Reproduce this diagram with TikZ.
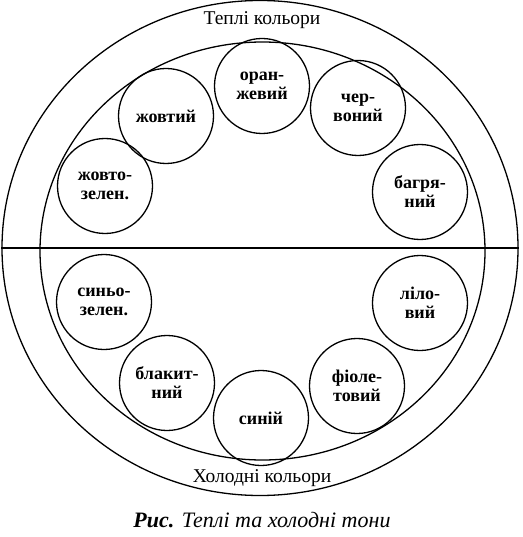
\documentclass[tikz,border=0pt]{standalone}
\usepackage{fontspec}
\setmainfont{Liberation Serif}
\usetikzlibrary{shapes.geometric}

\tikzset{
  tone/.style={circle, draw, line width=1.3pt, minimum size=95pt, inner sep=0pt,
    align=center, font=\bfseries\fontsize{18}{19}\selectfont},
  ring/.style={ellipse, draw, line width=1.3pt, inner sep=0pt},
  legend/.style={font=\fontsize{19.5}{22}\selectfont}
}

\begin{document}
\begin{tikzpicture}[x=1pt, y=-1pt]
        \useasboundingbox (0,0) rectangle (522,537);

        % Outer and inner rings
        \node[ring, minimum width=516pt, minimum height=495pt] (outer) at (260,248) {};
        \node[ring, minimum width=445pt, minimum height=418pt] (inner) at (262.5,251) {};

        % Dividing line
        \draw[line width=2.5pt] (outer.west) -- (outer.east);

        % Warm tones
        \node[tone] (orange) at (262,86) {оран-\\жевий};
        \node[tone] (yellow) at (166,116) {жовтий};
        \node[tone] (red) at (358,108) {чер-\\воний};
        \node[tone] (yellowgreen) at (105,186) {жовто-\\зелен.};
        \node[tone] (crimson) at (420,192) {багря-\\ний};

        % Cold tones
        \node[tone] (bluegreen) at (104,302) {синьо-\\зелен.};
        \node[tone] (lilac) at (420,303) {ліло-\\вий};
        \node[tone] (lightblue) at (167,383) {блакит-\\ний};
        \node[tone] (violet) at (357,386) {фіоле-\\товий};
        \node[tone] (blue) at (261,418) {синій};

        % Labels
        \node[legend] (warm) at (262,20) {Теплі кольори};
        \node[legend] (cold) at (262,478) {Холодні кольори};
        \node[legend, font=\fontsize{22}{24}\selectfont] (caption) at (262,520) {\textbf{\textit{Рис.}} \textit{Теплі та холодні тони}};
    \end{tikzpicture}
\end{document}
